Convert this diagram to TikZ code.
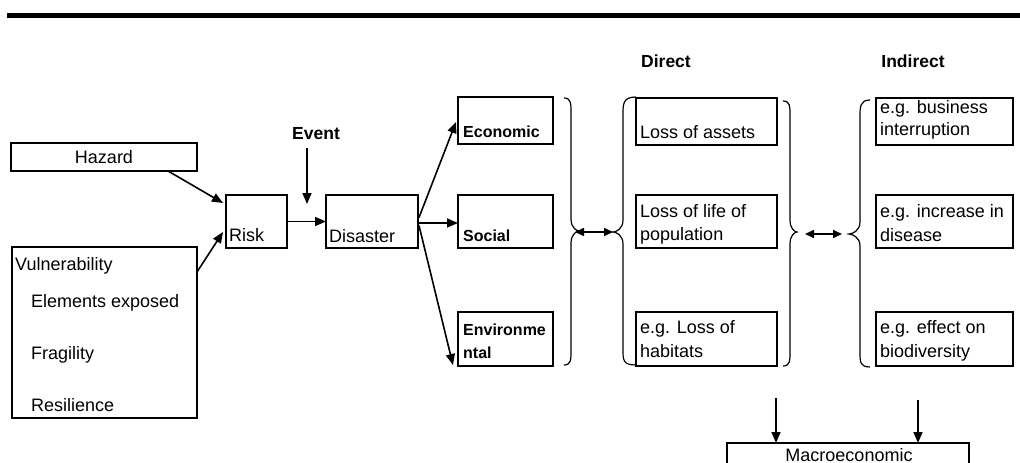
\documentclass[tikz,border=0pt]{standalone}
\usepackage{fontspec}
\setmainfont{Liberation Sans}
\usetikzlibrary{arrows.meta,calc}
\begin{document}
\begin{tikzpicture}[x=1pt,y=-1pt,
  box/.style={draw,line width=2.8pt,inner sep=0pt,outer sep=0pt},
  txt/.style={inner sep=0pt,anchor=base west,font=\fontsize{18}{21}\selectfont},
  btxt/.style={inner sep=0pt,anchor=base west,font=\fontsize{16}{19}\selectfont\bfseries},
  htxt/.style={inner sep=0pt,anchor=base west,font=\fontsize{17.5}{20}\selectfont\bfseries},
  arr/.style={line width=1.6pt,-{Triangle[length=11pt,width=9pt]}},
  darr/.style={line width=1.6pt,{Triangle[length=9pt,width=8pt]}-{Triangle[length=9pt,width=8pt]}},
  brace/.style={line width=1.2pt}]
\path[use as bounding box,clip] (0,0) rectangle (1020,463);
% top bar
\fill (7,13) rectangle (1020,18);
% headings
\node[htxt,anchor=base] (direct) at (666,67) {Direct};
\node[htxt,anchor=base] (indirect) at (913,67) {Indirect};
% left boxes
\node[box,minimum width=186pt,minimum height=28pt] (hazard) at (104,157) {};
\node[txt,anchor=base] at (104,163) {Hazard};
\node[box,minimum width=185pt,minimum height=171pt] (vuln) at (104.5,332.5) {};
\node[txt] at (15,270) {Vulnerability};
\node[txt] at (31,307) {Elements exposed};
\node[txt] at (31,359) {Fragility};
\node[txt] at (31,411) {Resilience};
\node[box,minimum width=61pt,minimum height=53pt] (risk) at (256.5,221.5) {};
\node[txt] at (229,241) {Risk};
\node[htxt] (event) at (292,139) {Event};
\node[box,minimum width=92pt,minimum height=53pt] (disaster) at (372,221.5) {};
\node[txt] at (329,242) {Disaster};
% impact type boxes
\node[box,minimum width=95pt,minimum height=47pt] (econ) at (505.5,120.5) {};
\node[btxt] at (463,137) {Economic};
\node[box,minimum width=95pt,minimum height=53pt] (social) at (505.5,221.5) {};
\node[btxt] at (463,241) {Social};
\node[box,minimum width=95pt,minimum height=54pt] (env) at (505.5,339) {};
\node[btxt] at (463,335) {Environme};
\node[btxt] at (463,358) {ntal};
% direct boxes
\node[box,minimum width=141pt,minimum height=47pt] (d1) at (706.5,121.5) {};
\node[txt] at (640,138) {Loss of assets};
\node[box,minimum width=141pt,minimum height=53pt] (d2) at (706.5,221.5) {};
\node[txt] at (640,217) {Loss of life of};
\node[txt] at (640,240) {population};
\node[box,minimum width=141pt,minimum height=54pt] (d3) at (706.5,339) {};
\node[txt] at (640,333) {e.g. Loss of};
\node[txt] at (640,357) {habitats};
% indirect boxes
\node[box,minimum width=137pt,minimum height=47pt] (i1) at (944.5,121.5) {};
\node[txt] at (880,113) {e.g. business};
\node[txt] at (880,135) {interruption};
\node[box,minimum width=137pt,minimum height=53pt] (i2) at (944.5,221.5) {};
\node[txt] at (880,217) {e.g. increase in};
\node[txt] at (880,241) {disease};
\node[box,minimum width=137pt,minimum height=54pt] (i3) at (944.5,339) {};
\node[txt] at (880,333) {e.g. effect on};
\node[txt] at (880,357) {biodiversity};
% macro box
\node[box,minimum width=242pt,minimum height=47pt] (macro) at (848,466.5) {};
\node[txt,anchor=base] at (849,461) {Macroeconomic};
% arrows left part
\draw[arr] ($(hazard.south east)+(-29,0)$) -- ($(risk.north west)+(-3,8)$);
\draw[arr] ($(vuln.north east)+(0,25)$) -- ($(risk.south west)+(-3,-16)$);
\coordinate (evtop) at (307,148);
\draw[arr] (evtop) -- (307,204);
\draw[arr] (risk.east) -- (disaster.west);
\draw[arr] ($(disaster.east)+(1,-4)$) -- ($(econ.west)+(-2,1.5)$);
\draw[arr] ($(disaster.east)+(0,1.5)$) -- ($(social.west)+(0,1.5)$);
\draw[arr] ($(disaster.east)+(1,4)$) -- ($(env.south west)+(-5,-1)$);
% braces
\draw[brace] (564,98) .. controls (571,98) and (571,103) .. (571,113) -- (571,219)
  .. controls (571,228) and (577,231) .. (579,231)
  .. controls (577,231) and (571,234) .. (571,243) -- (571,350)
  .. controls (571,360) and (571,365) .. (564,365);
\draw[brace] (636,97) .. controls (623,97) and (623,104) .. (623,114) -- (623,220)
  .. controls (623,229) and (616,232) .. (613,232)
  .. controls (616,232) and (623,235) .. (623,244) -- (623,350)
  .. controls (623,360) and (623,365) .. (636,365);
\draw[brace] (783,101) .. controls (790,101) and (790,106) .. (790,116) -- (790,220)
  .. controls (790,229) and (795,232) .. (797,232)
  .. controls (795,232) and (790,235) .. (790,244) -- (790,351)
  .. controls (790,361) and (790,366) .. (783,366);
\draw[brace] (870,100) .. controls (860,100) and (860,107) .. (860,117) -- (860,222)
  .. controls (860,231) and (852,234) .. (849,234)
  .. controls (852,234) and (860,237) .. (860,246) -- (860,352)
  .. controls (860,362) and (860,367) .. (870,367);
\coordinate (b1) at (575,232);
\coordinate (b2) at (613,232);
\coordinate (b3) at (805,234);
\coordinate (b4) at (842,234);
\draw[darr] (b1) -- (b2);
\draw[darr] (b3) -- (b4);
% down arrows
\coordinate (da1) at (776,398);
\coordinate (da2) at (918,400);
\draw[arr] (da1) -- (da1 |- macro.north);
\draw[arr] (da2) -- (da2 |- macro.north);
\end{tikzpicture}
\end{document}
